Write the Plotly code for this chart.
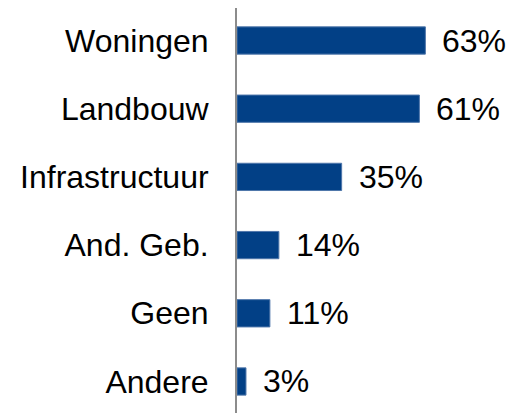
import plotly.graph_objects as go

categories = ["Woningen", "Landbouw", "Infrastructuur", "And. Geb.", "Geen", "Andere"]
values = [63, 61, 35, 14, 11, 3]
value_labels = ["63%", "61%", "35%", "14%", "11%", "3%"]

FONT = "Liberation Sans, Arial, sans-serif"

fig = go.Figure()
fig.add_trace(go.Bar(
    x=values,
    y=categories,
    orientation="h",
    width=0.4,
    marker=dict(color="#024086", line=dict(color="#4f76aa", width=1)),
    hoverinfo="skip",
))

for c, v, t in zip(categories, values, value_labels):
    fig.add_annotation(
        x=v, y=c, text=t, showarrow=False,
        xanchor="left", yanchor="middle", xshift=15,
        font=dict(family=FONT, size=32, color="#000000"),
    )

# page body has an 8px margin, so the figure is sized to fill the rest of the window
W, H = 515, 405
ml, mr, mt, mb = 229, 0, 0, 0
plot_w = W - ml - mr
px_per_unit = 2.99
fig.update_layout(
    width=W, height=H,
    margin=dict(l=ml, r=mr, t=mt, b=mb),
    paper_bgcolor="white",
    plot_bgcolor="white",
    showlegend=False,
    bargap=0.6,
    xaxis=dict(
        range=[0, plot_w / px_per_unit],
        showgrid=False, zeroline=False, showline=False,
        showticklabels=False, ticks="", automargin=False,
    ),
    yaxis=dict(
        categoryorder="array",
        categoryarray=categories,
        range=[5.462, -0.4765],
        showgrid=False, zeroline=False,
        showline=True, linecolor="#8c8c8c", linewidth=2,
        ticks="", ticklabelstandoff=20, automargin=False,
        tickfont=dict(family=FONT, size=32, color="#000000"),
    ),
)

fig.write_html("out.html")
